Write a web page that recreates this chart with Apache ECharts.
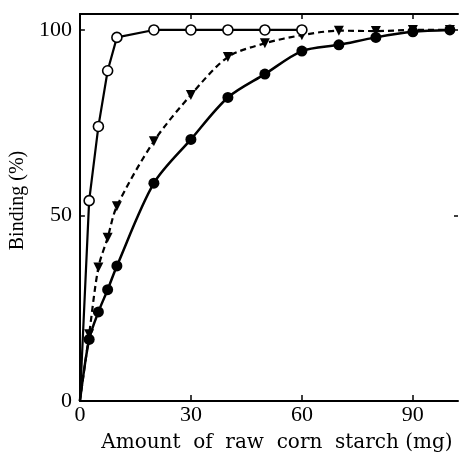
<!DOCTYPE html>
<html>
<head>
<meta charset="utf-8">
<script src="https://cdn.jsdelivr.net/npm/echarts@6/dist/echarts.min.js"></script>
<style>
html,body{margin:0;padding:0;background:#fff;}
#c{width:461px;height:462px;}
</style>
</head>
<body>
<div id="c"></div>
<script>
// Data
const openX      = [0, 2.5, 5, 7.5, 10, 20, 30, 40, 50, 60];
const openY      = [0, 54, 74, 89, 98, 100, 100, 100, 100, 100];
const triX       = [0, 2.5, 5, 7.5, 10, 20, 30, 40, 50, 60, 70, 80, 90, 100];
const triY       = [0, 18, 36, 44, 52.5, 70, 82.5, 92.7, 96.4, 98.6, 99.8, 99.7, 100, 100];
const fillX      = [0, 2.5, 5, 7.5, 10, 20, 30, 40, 50, 60, 70, 80, 90, 100];
const fillY      = [0, 16.6, 24, 30, 36.4, 58.7, 70.5, 81.8, 88.1, 94.3, 96, 98, 99.5, 100];
const xTickLabels = [0, 30, 60, 90];
const yTickLabels = [0, 50, 100];
const xTitle = 'Amount  of  raw  corn  starch (mg)';
const yTitle = 'Binding (%)';

function pts(xs, ys) {
  return xs.map((x, i) => (x === 0 && ys[i] === 0) ? { value: [x, ys[i]], symbol: 'none' } : [x, ys[i]]);
}

const FONT = "'Liberation Serif', 'DejaVu Serif', serif";
const TFONT = "'DejaVu Serif', 'Liberation Serif', serif";
const chart = echarts.init(document.getElementById('c'), null, { renderer: 'canvas' });
const lineStyleAxis = { color: '#000', width: 2 };

chart.setOption({
  animation: false,
  backgroundColor: '#fff',
  grid: { left: 79, right: 3, top: 14, bottom: 61 },
  xAxis: [
    {
      type: 'value', min: 0, max: 102.2, position: 'bottom',
      splitLine: { show: false },
      axisLine: { show: true, onZero: false, lineStyle: lineStyleAxis },
      axisTick: { show: true, inside: true, length: 6, customValues: [30, 60, 90], lineStyle: { color: '#000', width: 1.5 } },
      axisLabel: { customValues: xTickLabels, color: '#000', fontFamily: FONT, fontSize: 22, margin: 3 },
      name: xTitle, nameLocation: 'middle', nameGap: 32,
      nameTextStyle: { color: '#000', fontFamily: TFONT, fontSize: 20, padding: [0, 0, 0, 16] }
    },
    {
      type: 'value', min: 0, max: 102.2, position: 'top',
      splitLine: { show: false },
      axisLine: { show: true, onZero: false, lineStyle: lineStyleAxis },
      axisTick: { show: true, inside: true, length: 5, customValues: [30, 60, 90], lineStyle: { color: '#000', width: 1.5 } },
      axisLabel: { show: false }
    }
  ],
  yAxis: [
    {
      type: 'value', min: 0, max: 104.3, position: 'left',
      splitLine: { show: false },
      axisLine: { show: true, onZero: false, lineStyle: lineStyleAxis },
      axisTick: { show: true, inside: true, length: 5, customValues: [50, 100], lineStyle: { color: '#000', width: 1.5 } },
      axisLabel: { customValues: yTickLabels, color: '#000', fontFamily: FONT, fontSize: 22, margin: 8 },
      name: yTitle, nameLocation: 'middle', nameGap: 42, nameRotate: 90,
      nameTextStyle: { color: '#000', fontFamily: FONT, fontSize: 20, padding: [0, 0, 0, 14] }
    },
    {
      type: 'value', min: 0, max: 104.3, position: 'right',
      splitLine: { show: false },
      axisLine: { show: false, onZero: false },
      axisTick: { show: true, inside: true, length: 4, customValues: [50, 100], lineStyle: { color: '#000', width: 1.5 } },
      axisLabel: { show: false }
    }
  ],
  series: [
    {
      type: 'line', name: 'triangle', data: pts(triX, triY),
      smooth: 0.3,
      symbol: 'triangle', symbolRotate: 180, symbolSize: 10,
      itemStyle: { color: '#000' },
      lineStyle: { color: '#000', width: 2.2, type: [6, 4] },
      z: 2
    },
    {
      type: 'line', name: 'filled', data: pts(fillX, fillY),
      smooth: 0.3,
      symbol: 'circle', symbolSize: 11,
      itemStyle: { color: '#000' },
      lineStyle: { color: '#000', width: 2.5 },
      z: 3
    },
    {
      type: 'line', name: 'open', data: pts(openX, openY),
      symbol: 'circle', symbolSize: 10,
      itemStyle: { color: '#fff', borderColor: '#000', borderWidth: 1.6 },
      lineStyle: { color: '#000', width: 2.2 },
      z: 4
    }
  ]
});
</script>
</body>
</html>
